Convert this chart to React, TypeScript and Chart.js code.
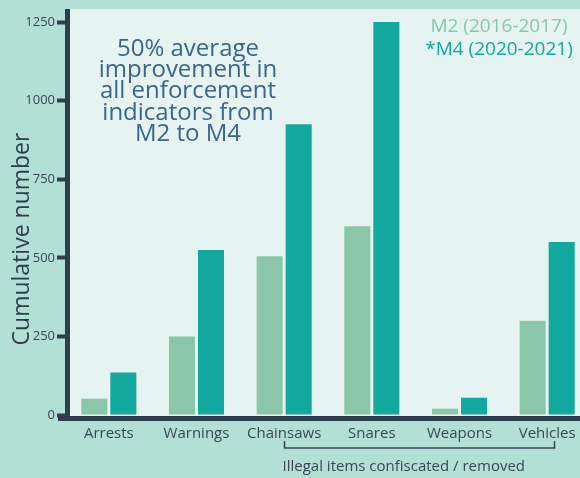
import React, { useEffect, useRef } from "react";
import { Chart, registerables } from "chart.js";

Chart.register(...registerables);

const categories = ["Arrests", "Warnings", "Chainsaws", "Snares", "Weapons", "Vehicles"];
const m2Values = [52, 250, 505, 600, 20, 300];
const m4Values = [135, 525, 925, 1250, 55, 550];
const seriesLabels = ["M2 (2016-2017)", "*M4 (2020-2021)"];
const yTickValues = [0, 250, 500, 750, 1000, 1250];
const annotationLines = ["50% average", "improvement in", "all enforcement", "indicators from", "M2 to M4"];
const yAxisTitle = "Cumulative number";
const groupLabel = "Illegal items confiscated / removed";

const FONT = "'Open Sans', sans-serif";
const OUTER_BG = "#b2e0d4";
const INNER_BG = "#e5f4f0";
const AXIS = "#2f3d4f";
const TEXT = "#3a4656";
const M2_COLOR = "#8ac6a8";
const M4_COLOR = "#12a89d";
const NOTE_COLOR = "#3a6590";

const decorPlugin = {
  id: "decor",
  beforeDraw(chart: any) {
    const { ctx, width, height, chartArea } = chart;
    ctx.save();
    ctx.fillStyle = OUTER_BG;
    ctx.fillRect(0, 0, width, height);
    ctx.fillStyle = INNER_BG;
    ctx.fillRect(chartArea.left + 5, 9, width - chartArea.left - 5, chartArea.bottom + 1 - 9);
    ctx.restore();
  },
  afterDraw(chart: any) {
    const { ctx, chartArea, scales } = chart;
    const x = scales.x;
    ctx.save();
    // axes
    ctx.fillStyle = AXIS;
    ctx.fillRect(chartArea.left, 9, 5, chartArea.bottom + 6 - 9);
    ctx.fillRect(chartArea.left - 7, chartArea.bottom + 1, 700, 5);

    // y title
    ctx.save();
    ctx.translate(22, 239);
    ctx.rotate(-Math.PI / 2);
    ctx.fillStyle = AXIS;
    ctx.font = `23px ${FONT}`;
    ctx.textAlign = "center";
    ctx.textBaseline = "middle";
    ctx.fillText(yAxisTitle, 0, 0);
    ctx.restore();

    // annotation
    ctx.fillStyle = NOTE_COLOR;
    ctx.font = `500 24px ${FONT}`;
    ctx.textAlign = "center";
    ctx.textBaseline = "alphabetic";
    annotationLines.forEach((line, i) => {
      ctx.fillText(line, 188, 56 + i * 21.2);
    });

    // legend
    ctx.font = `19px ${FONT}`;
    ctx.textAlign = "center";
    const colors = [M2_COLOR, M4_COLOR];
    seriesLabels.forEach((lab, i) => {
      ctx.fillStyle = colors[i];
      ctx.fillText(lab, 499, 32 + i * 23);
    });

    // bracket
    const x0 = Math.round(x.getPixelForValue(2)) + 0.5;
    const x1 = Math.round(x.getPixelForValue(5) + 7) + 0.5;
    ctx.strokeStyle = TEXT;
    ctx.lineWidth = 1.5;
    ctx.beginPath();
    ctx.moveTo(x0, 441);
    ctx.lineTo(x0, 448);
    ctx.lineTo(x1, 448);
    ctx.lineTo(x1, 441);
    ctx.stroke();
    ctx.fillStyle = TEXT;
    ctx.font = `15px ${FONT}`;
    ctx.textAlign = "left";
    ctx.fillText(groupLabel, x0 - 2, 471);
    ctx.restore();
  },
};

export default function App() {
  const ref = useRef<HTMLCanvasElement>(null);
  useEffect(() => {
    if (!ref.current) return;
    const chart = new Chart(ref.current, {
      type: "bar",
      data: {
        labels: categories,
        datasets: [
          {
            label: seriesLabels[0],
            data: m2Values,
            backgroundColor: M2_COLOR,
            categoryPercentage: 0.662,
            barPercentage: 0.897,
          },
          {
            label: seriesLabels[1],
            data: m4Values,
            backgroundColor: M4_COLOR,
            categoryPercentage: 0.662,
            barPercentage: 0.897,
          },
        ],
      },
      options: {
        responsive: false,
        animation: false,
        devicePixelRatio: 1,
        layout: { padding: { top: 22, left: 0, right: 9, bottom: 0 } },
        plugins: {
          legend: { display: false },
          tooltip: { enabled: false },
        },
        scales: {
          x: {
            grid: { display: false, drawTicks: false },
            border: { display: false },
            ticks: {
              color: TEXT,
              font: { family: FONT, size: 15 },
              padding: 10,
              maxRotation: 0,
              autoSkip: false,
            },
            afterFit(scale: any) {
              scale.height = 63;
            },
          },
          y: {
            min: 0,
            max: 1250,
            afterBuildTicks(scale: any) {
              scale.ticks = yTickValues.map((v) => ({ value: v }));
            },
            grid: {
              drawOnChartArea: false,
              drawTicks: true,
              tickLength: 8,
              tickWidth: 4,
              tickColor: AXIS,
            },
            border: { display: false },
            ticks: {
              color: TEXT,
              font: { family: FONT, size: 13 },
              padding: 2,
              callback: (v: any) => String(v),
            },
            afterFit(scale: any) {
              scale.width = 65;
            },
          },
        },
      },
      plugins: [decorPlugin],
    });
    return () => chart.destroy();
  }, []);

  return (
    <div style={{ position: "absolute", left: 0, top: 0, width: 580, height: 478, overflow: "hidden" }}>
      <canvas ref={ref} width={600} height={478} style={{ display: "block", width: 600, height: 478 }} />
    </div>
  );
}
